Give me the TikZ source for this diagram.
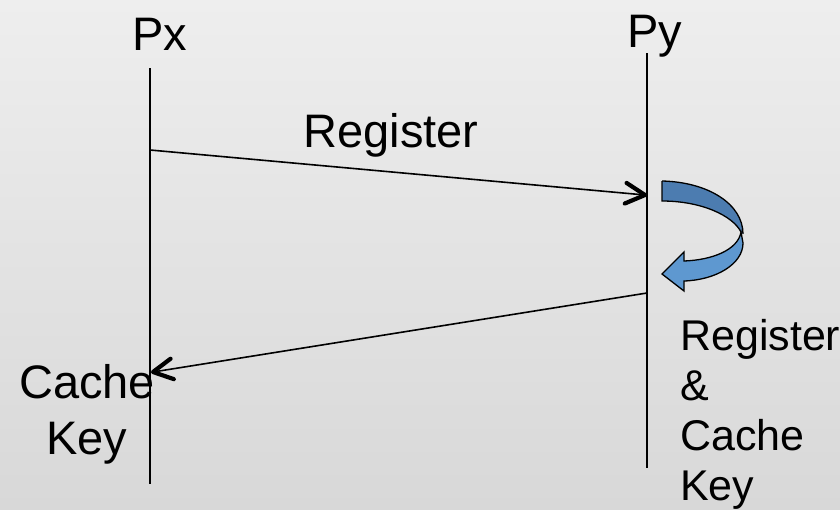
\documentclass[tikz,border=0pt]{standalone}
\usepackage{fontspec}
\setmainfont{Liberation Sans}
\usetikzlibrary{calc}
\definecolor{bgtop}{RGB}{238,238,238}
\definecolor{bgbot}{RGB}{216,216,216}
\definecolor{turnback}{RGB}{76,124,176}
\definecolor{turnfront}{RGB}{94,152,208}
\tikzset{
  lbl/.style={inner sep=0pt, font=\fontsize{47}{56}\selectfont},
  lifeline/.style={line width=1.6pt, black},
  msg/.style={line width=1.6pt, black},
  barb/.style={line width=4.2pt, black, line cap=round, line join=round},
  ribbon/.style={draw=black, line width=1.3pt, line join=miter}
}
\begin{document}
\begin{tikzpicture}[x=1pt,y=-1pt]
  % page and background
  \useasboundingbox (0,0) rectangle (840,509);
  \shade[top color=bgtop, bottom color=bgbot] (0,0) rectangle (840,509);

  % participants
  \node[lbl, anchor=base] (px) at (160,50) {Px};
  \node[lbl, anchor=base] (py) at (655,47) {Py};

  % lifelines
  \coordinate (pxtop) at (150,68);
  \coordinate (pxbot) at (150,484);
  \coordinate (pytop) at (647,53);
  \coordinate (pybot) at (647,468);
  \draw[lifeline] (pxtop) -- (pxbot);
  \draw[lifeline] (pytop) -- (pybot);

  % request and reply, each with an open barbed head
  \coordinate (regout) at (150,150);
  \coordinate (regin)  at (645,195);
  \coordinate (repout) at (647,293);
  \coordinate (repin)  at (153,372);
  \draw[msg] (regout) -- (regin);
  \draw[barb] ($(regin)!22pt!28:(regout)$) -- (regin) -- ($(regin)!22pt!-28:(regout)$);
  \draw[msg] (repout) -- (repin);
  \draw[barb] ($(repin)!22pt!28:(repout)$) -- (repin) -- ($(repin)!22pt!-28:(repout)$);
  \node[lbl, anchor=base] (reglbl) at (391,147) {Register};

  % self-turn arrow on Py: back half, then front half with head
  \fill[turnback] (662,181) .. controls (708,182) and (743,204) .. (743,234)
     -- (741,232) .. controls (733,216) and (702,201) .. (662,201) -- cycle;
  \draw[ribbon] (662,181) .. controls (708,182) and (743,204) .. (743,234);
  \draw[ribbon] (741,232) .. controls (733,216) and (702,201) .. (662,201) -- (662,181);
  \filldraw[ribbon, fill=turnfront] (741,232) -- (743,243)
     .. controls (743,264) and (716,280) .. (684,281)
     -- (684,291) -- (662,274) -- (684,252) -- (684,261)
     .. controls (712,260) and (738,250) .. (741,232) -- cycle;

  % notes beside the lifelines (anchored at the baseline of the last line)
  \node[lbl, anchor=base, align=center] (cachekey) at (87,454) {Cache\\Key};
  \node[lbl, anchor=base west, align=left,
        font=\fontsize{43}{50}\selectfont] (regcache) at (680,500)
        {Register\\\&\\Cache\\Key};
\end{tikzpicture}
\end{document}
